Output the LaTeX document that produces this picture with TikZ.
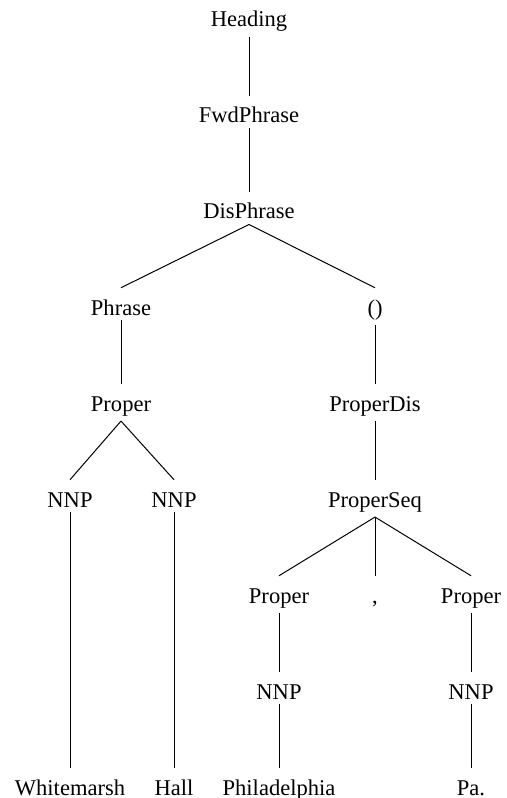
\documentclass[tikz,border=0pt]{standalone}
\usepackage{fontspec}
\setmainfont{Liberation Serif}
\begin{document}
\begin{tikzpicture}[x=0.75pt,y=-0.75pt,
  lab/.style={anchor=base, inner xsep=0pt, inner ysep=3.75pt, text height=16.5pt,
              font=\fontsize{16.9}{20}\selectfont},
  edge/.style={line width=0.75pt}]
\useasboundingbox (0,0) rectangle (506,798);
\node[lab] (h)   at (249,27)  {Heading};
\node[lab] (f)   at (249,123) {FwdPhrase};
\node[lab] (d)   at (249,219) {DisPhrase};
\node[lab] (p)   at (121,315) {Phrase};
\node[lab] (e)   at (375,315) {()};
\node[lab] (pr1) at (121,411) {Proper};
\node[lab] (pd)  at (375,411) {ProperDis};
\node[lab] (n1)  at (70,507)  {NNP};
\node[lab] (n2)  at (174,507) {NNP};
\node[lab] (ps)  at (375,507) {ProperSeq};
\node[lab] (pr2) at (279,603) {Proper};
\node[lab] (c)   at (375,603) {,};
\node[lab] (pr3) at (471,603) {Proper};
\node[lab] (n3)  at (279,699) {NNP};
\node[lab] (n4)  at (471,699) {NNP};
\node[lab] (w1)  at (70,795)  {Whitemarsh};
\node[lab] (w2)  at (174,795) {Hall};
\node[lab] (w3)  at (279,795) {Philadelphia};
\node[lab] (w4)  at (471,795) {Pa.};
\draw[edge] (h.south) -- (f.north);
\draw[edge] (f.south) -- (d.north);
\draw[edge] (d.south) -- (p.north);
\draw[edge] (d.south) -- (e.north);
\draw[edge] (p.south) -- (pr1.north);
\draw[edge] (e.south) -- (pd.north);
\draw[edge] (pr1.south) -- (n1.north);
\draw[edge] (pr1.south) -- (n2.north);
\draw[edge] (pd.south) -- (ps.north);
\draw[edge] (ps.south) -- (pr2.north);
\draw[edge] (ps.south) -- (c.north);
\draw[edge] (ps.south) -- (pr3.north);
\draw[edge] (pr2.south) -- (n3.north);
\draw[edge] (pr3.south) -- (n4.north);
\draw[edge] (n1.south) -- (w1.north);
\draw[edge] (n2.south) -- (w2.north);
\draw[edge] (n3.south) -- (w3.north);
\draw[edge] (n4.south) -- (w4.north);
\end{tikzpicture}
\end{document}
